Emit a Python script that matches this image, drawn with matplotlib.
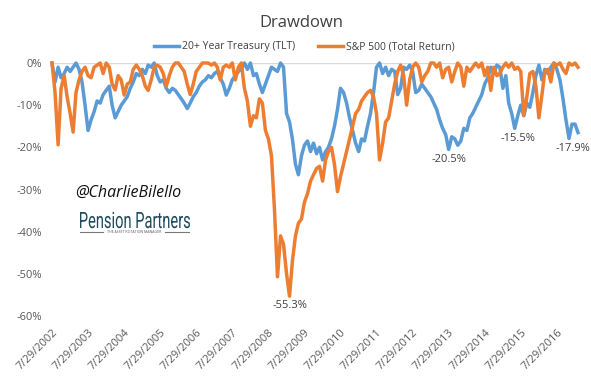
import matplotlib.pyplot as plt
from matplotlib.lines import Line2D
from matplotlib.textpath import TextPath
from matplotlib.patches import PathPatch
from matplotlib.font_manager import FontProperties
from matplotlib.transforms import Affine2D
import pandas as pd

plt.rcParams['font.family'] = ['Open Sans', 'DejaVu Sans']

# monthly drawdown values (%), starting 7/29/2002, one row = Jul..Jun
start = '2002-07-29'
tlt = [
    0, -4.5, -1, -3.5, -2.5, -1, -2, -1, 0, -1.5, -4.5, -10,
    -16, -13.5, -11.5, -9, -9.5, -7.5, -6.5, -5.5, -10, -13, -11.5, -10,
    -9, -8, -6, -4.5, -2.5, -3, -1.5, -2.5, -0.5, -1, 0, -3,
    -4.5, -4, -6, -7, -6, -6.5, -7.5, -8.5, -9.5, -10.8, -9.5, -8,
    -7, -5.5, -4.5, -4, -3, -3.5, -2.5, -2, -3.5, -5, -7.6, -6,
    -4, -3, -2, -1.5, 0, -1.5, 0, -3, -2.5, -5, -7, -5,
    -3, -1, -1.5, -2, 0, -1, -12, -14, -18, -24, -26.5, -22,
    -19.5, -18.5, -21, -19, -21.5, -20, -23, -21, -20, -18, -15, -11,
    -6, -7, -9.5, -13, -16, -19, -21, -18, -18.5, -15, -12, -7,
    -1, 0, -2.5, -1, -3, -1.5, -2, -7.5, -6, -1, -1.5, -0.5,
    -2, -7, -6.5, -5, -6, -7, -8, -9.5, -11, -13.5, -15.5, -17,
    -20.5, -17.5, -18, -19.5, -18.5, -15.5, -16, -13, -12, -10.5, -9, -7.5,
    -5, -3.5, -1, -2.5, -0.5, -1, -6, -3, -9.5, -12, -15.5, -12.5,
    -10, -12.5, -9.5, -10.5, -7, -3, -0.5, -4, -1.5, -2.5, -1, 0,
    -1.5, -4, -8.5, -13.5, -17.9, -14.5, -14.5, -16.5,
]
spx = [
    0, -7, -19.4, -6, -3, -8, -12, -16.4, -7, -4, -2, -1,
    -3, -3.5, -1, -0.5, 0, -2.5, 0, -1, -5, -6.4, -3, -4,
    -7.6, -5, -4.5, -1.5, -0.5, -1.5, -3, -5.5, -6.5, -4, -1, -0.5,
    -1, -2.5, -5.5, -3, -1, 0, 0, -1, -2, -5, -7.5, -5,
    -2, -1, 0, 0, 0, -0.5, 0, -1, -4, -1, -0.5, -1,
    0, -4, -1, 0, -6, -9, -15, -12.5, -13, -8.5, -9.5, -16,
    -18, -22, -35, -50.7, -41, -43, -50, -55.3, -47, -41, -38, -37,
    -33, -31, -28, -26.5, -25, -24.5, -28, -23, -21, -20, -24, -30.5,
    -27, -24, -21, -18, -15, -12, -11, -9, -8, -7, -6.5, -8,
    -12, -23, -19, -14, -13, -9, -5, -2, -0.5, -3, -10, -4,
    -1, 0, -1, -4.5, -3, -2, 0, 0, -1, 0, -3.5, -1.5,
    -1, -4.5, -2, 0, -1, -5.5, -1, -2, -1, 0, -1, 0,
    -3, -1, -6.5, -1, -3, -2.5, -1, 0, -1, 0, -1.5, -1,
    -2, -12.4, -8, -2.5, -2, -5.5, -13, -7.5, -2, -1.5, -4.5, 0,
    -0.5, 0, -1.5, -2.5, 0, -0.5, 0, -1,
]
x_labels = ['7/29/2002', '7/29/2003', '7/29/2004', '7/29/2005', '7/29/2006',
            '7/29/2007', '7/29/2008', '7/29/2009', '7/29/2010', '7/29/2011',
            '7/29/2012', '7/29/2013', '7/29/2014', '7/29/2015', '7/29/2016']
y_ticks = [0, -10, -20, -30, -40, -50, -60]
y_labels = ['0%', '-10%', '-20%', '-30%', '-40%', '-50%', '-60%']

t0 = pd.Timestamp(start)
dates = [t0 + pd.DateOffset(months=i) for i in range(len(tlt))]
x_ticks = [t0 + pd.DateOffset(years=i) for i in range(len(x_labels))]

fig = plt.figure(figsize=(5.91, 3.79), dpi=100)
ax = fig.add_axes([52/591, 1 - 316/379, 526/591, 253/379])

ax.axhline(0, color='#D9D9D9', lw=1, zorder=0)
ax.plot(dates, tlt, color='#5B9BD5', lw=2.5, label='20+ Year Treasury (TLT)', clip_on=False)
ax.plot(dates, spx, color='#ED7D31', lw=2.5, label='S&P 500 (Total Return)', clip_on=False)

ax.set_xlim(dates[0], dates[-1])
ax.set_ylim(-60, 0)
for s in ax.spines.values():
    s.set_visible(False)
ax.set_yticks(y_ticks)
ax.set_yticklabels(y_labels)
ax.set_xticks(x_ticks)
ax.set_xticklabels(x_labels, rotation=45, ha='right', rotation_mode='anchor')
ax.tick_params(length=0, labelsize=8, colors='#595959')
ax.tick_params(axis='y', pad=7)
ax.tick_params(axis='x', pad=8)

# labels under the troughs
sp = pd.Series(spx, index=dates)
tl = pd.Series(tlt, index=dates)
for s, a, b, dx in [(sp, None, None, 0), (tl, '2013-01-01', '2014-06-30', 0),
                    (tl, '2015-01-01', '2015-12-31', 2), (tl, '2016-07-01', None, 3)]:
    seg = s[a:b]
    ax.annotate('%.1f%%' % seg.min(), (seg.idxmin(), seg.min()), xytext=(dx, -3),
                textcoords='offset points', ha='center', va='top',
                fontsize=8, color='#404040')

fig.text(301/591, 1 - 23/379, 'Drawdown', ha='center', va='center',
         fontsize=12, color='#404040')
fig.legend(loc='center', bbox_to_anchor=(304/591, 1 - 47/379), ncol=2,
           frameon=False, fontsize=7.5, handlelength=2.4, handletextpad=0.3,
           columnspacing=2.2, labelcolor='#404040')

# watermark
fig.text(75/591, 1 - 193/379, '@CharlieBilello', fontsize=11.5, style='italic',
         va='center', ha='left', color='#111111')

# condensed logo text: squeeze a text path into the logo box (pixels)
prop = FontProperties(family='Roboto')
tp = TextPath((0, 0), 'Pension Partners', size=100, prop=prop)
cap = TextPath((0, 0), 'P', size=100, prop=prop).get_extents().height
bb = tp.get_extents()
sx = 110 / bb.width
sy = 16 / cap
tr = Affine2D().scale(sx, sy).translate(80 - bb.x0 * sx, 379 - 228)
fig.add_artist(PathPatch(tp, transform=tr, color='#1E4A5C', lw=0))
fig.text(134/591, 1 - 232/379, 'THE ASSET ROTATION MANAGER', fontsize=2.5,
         va='center', ha='center', color='#555555')
for x0, x1 in [(80, 103), (165, 189)]:
    fig.add_artist(Line2D([x0/591, x1/591], [1 - 232/379] * 2, color='#777777', lw=0.8))

fig.savefig('out.png', dpi=100)
